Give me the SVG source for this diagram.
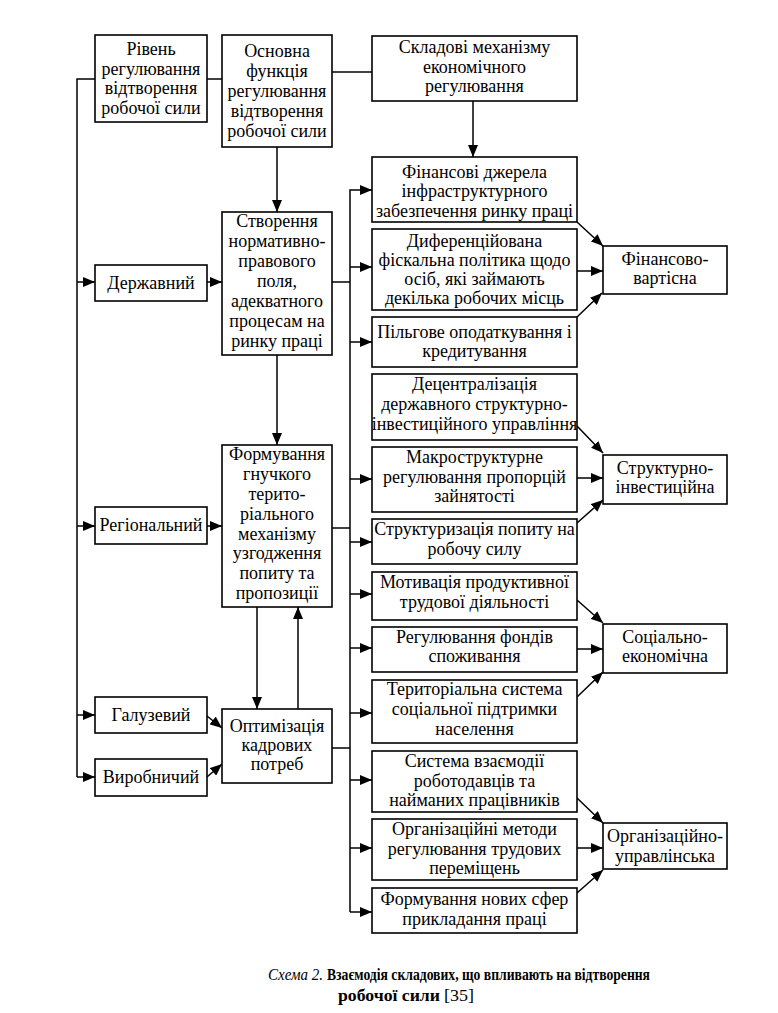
<svg xmlns="http://www.w3.org/2000/svg" width="778" height="1013" viewBox="0 0 778 1013">
<style>
rect.b{fill:#fff;stroke:#000;stroke-width:1.6}
text{font-family:"Liberation Serif","Times New Roman","DejaVu Serif",serif;font-size:18px;fill:#000;text-anchor:middle}
.c line,.c polyline{stroke:#000;stroke-width:1.5;fill:none}
.a{marker-end:url(#ah)}
.cap{font-size:16.5px;text-anchor:start}
</style>
<defs>
<marker id="ah" markerUnits="userSpaceOnUse" markerWidth="12" markerHeight="10" viewBox="0 0 12 10" refX="12" refY="5" orient="auto">
<path d="M0,0 L12,5 L0,10 z" fill="#000"/>
</marker>
</defs>
<rect width="778" height="1013" fill="#fff"/>
<g class="c">
<polyline points="95,79 77,79 77,777"/>
<line class="a" x1="77" y1="282" x2="95" y2="282"/>
<line class="a" x1="77" y1="526" x2="95" y2="526"/>
<line class="a" x1="77" y1="715" x2="95" y2="715"/>
<line class="a" x1="77" y1="777" x2="95" y2="777"/>
<line x1="207" y1="79" x2="222" y2="79"/>
<line x1="332" y1="72" x2="372" y2="72"/>
<line class="a" x1="473" y1="101" x2="473" y2="157"/>
<line class="a" x1="277" y1="147" x2="277" y2="212"/>
<line class="a" x1="207" y1="282" x2="222" y2="282"/>
<line class="a" x1="207" y1="526" x2="222" y2="526"/>
<line class="a" x1="277" y1="355" x2="277" y2="445"/>
<line class="a" x1="257" y1="607" x2="257" y2="709"/>
<line class="a" x1="298" y1="709" x2="298" y2="607"/>
<line class="a" x1="207" y1="716" x2="222" y2="728"/>
<line class="a" x1="207" y1="777" x2="222" y2="764"/>
<polyline class="a" points="350,912 350,190 372,190"/>
<line x1="332" y1="282" x2="350" y2="282"/>
<line x1="332" y1="528" x2="350" y2="528"/>
<line x1="332" y1="748" x2="350" y2="748"/>
<line class="a" x1="350" y1="267" x2="372" y2="267"/>
<line class="a" x1="350" y1="342" x2="372" y2="342"/>
<line class="a" x1="350" y1="479" x2="372" y2="479"/>
<line class="a" x1="350" y1="542" x2="372" y2="542"/>
<line class="a" x1="350" y1="594" x2="372" y2="594"/>
<line class="a" x1="350" y1="648" x2="372" y2="648"/>
<line class="a" x1="350" y1="713" x2="372" y2="713"/>
<line class="a" x1="350" y1="780" x2="372" y2="780"/>
<line class="a" x1="350" y1="848" x2="372" y2="848"/>
<line class="a" x1="350" y1="912" x2="372" y2="912"/>
<line class="a" x1="577" y1="222" x2="603" y2="246"/>
<line class="a" x1="577" y1="271" x2="603" y2="271"/>
<line class="a" x1="577" y1="317" x2="602" y2="293"/>
<line class="a" x1="577" y1="426" x2="603" y2="453"/>
<line class="a" x1="577" y1="478" x2="603" y2="478"/>
<line class="a" x1="577" y1="523" x2="603" y2="500"/>
<line class="a" x1="577" y1="600" x2="603" y2="623"/>
<line class="a" x1="577" y1="649" x2="603" y2="649"/>
<line class="a" x1="577" y1="697" x2="603" y2="672"/>
<line class="a" x1="577" y1="798" x2="603" y2="823"/>
<line class="a" x1="577" y1="848" x2="603" y2="848"/>
<line class="a" x1="577" y1="893" x2="603" y2="870"/>
</g>
<g id="riven"><rect class="b" x="95" y="35" width="112" height="87"/><text x="151" y="55">Рівень</text><text x="151" y="75">регулювання</text><text x="151" y="94">відтворення</text><text x="151" y="114">робочої сили</text></g>
<g id="derzh"><rect class="b" x="95" y="265" width="112" height="36"/><text x="151" y="289">Державний</text></g>
<g id="region"><rect class="b" x="95" y="507" width="112" height="37"/><text x="151" y="531">Регіональний</text></g>
<g id="galuz"><rect class="b" x="95" y="697" width="112" height="36"/><text x="151" y="721">Галузевий</text></g>
<g id="vyrob"><rect class="b" x="95" y="759" width="112" height="37"/><text x="151" y="783">Виробничий</text></g>
<g id="osnovna"><rect class="b" x="222" y="35" width="110" height="112"/><text x="277" y="57">Основна</text><text x="277" y="77">функція</text><text x="277" y="97">регулювання</text><text x="277" y="117">відтворення</text><text x="277" y="137">робочої сили</text></g>
<g id="stvor"><rect class="b" x="222" y="212" width="110" height="143"/><text x="277" y="227">Створення</text><text x="277" y="247">нормативно-</text><text x="277" y="267">правового</text><text x="277" y="287">поля,</text><text x="277" y="307">адекватного</text><text x="277" y="327">процесам на</text><text x="277" y="347">ринку праці</text></g>
<g id="formuv"><rect class="b" x="222" y="445" width="110" height="162"/><text x="277" y="460">Формування</text><text x="277" y="480">гнучкого</text><text x="277" y="500">терито-</text><text x="277" y="520">ріального</text><text x="277" y="540">механізму</text><text x="277" y="559">узгодження</text><text x="277" y="579">попиту та</text><text x="277" y="599">пропозиції</text></g>
<g id="optym"><rect class="b" x="222" y="709" width="110" height="74"/><text x="277" y="732">Оптимізація</text><text x="277" y="751">кадрових</text><text x="277" y="770">потреб</text></g>
<g id="skladovi"><rect class="b" x="372" y="36" width="205" height="65"/><text x="474.5" y="53">Складові механізму</text><text x="474.5" y="73">економічного</text><text x="474.5" y="92">регулювання</text></g>
<g id="finjer"><rect class="b" x="372" y="157" width="205" height="65"/><text x="474.5" y="178">Фінансові джерела</text><text x="474.5" y="197">інфраструктурного</text><text x="474.5" y="217">забезпечення ринку праці</text></g>
<g id="dyfer"><rect class="b" x="372" y="229" width="205" height="81"/><text x="474.5" y="247">Диференційована</text><text x="474.5" y="266">фіскальна політика щодо</text><text x="474.5" y="285">осіб, які займають</text><text x="474.5" y="304">декілька робочих місць</text></g>
<g id="pilg"><rect class="b" x="372" y="317" width="205" height="50"/><text x="474.5" y="338">Пільгове оподаткування і</text><text x="474.5" y="357">кредитування</text></g>
<g id="decentr"><rect class="b" x="372" y="374" width="205" height="66"/><text x="474.5" y="390">Децентралізація</text><text x="474.5" y="410">державного структурно-</text><text x="474.5" y="430">інвестиційного управління</text></g>
<g id="makro"><rect class="b" x="372" y="447" width="205" height="65"/><text x="474.5" y="463">Макроструктурне</text><text x="474.5" y="483">регулювання пропорцій</text><text x="474.5" y="502">зайнятості</text></g>
<g id="struktur"><rect class="b" x="372" y="519" width="205" height="45"/><text x="474.5" y="535">Структуризація попиту на</text><text x="474.5" y="555">робочу силу</text></g>
<g id="motyv"><rect class="b" x="372" y="572" width="205" height="48"/><text x="474.5" y="588">Мотивація продуктивної</text><text x="474.5" y="608">трудової діяльності</text></g>
<g id="fondy"><rect class="b" x="372" y="627" width="205" height="45"/><text x="474.5" y="643">Регулювання фондів</text><text x="474.5" y="662">споживання</text></g>
<g id="terytor"><rect class="b" x="372" y="680" width="205" height="63"/><text x="474.5" y="695">Територіальна система</text><text x="474.5" y="715">соціальної підтримки</text><text x="474.5" y="735">населення</text></g>
<g id="systema"><rect class="b" x="372" y="751" width="205" height="61"/><text x="474.5" y="767">Система взаємодії</text><text x="474.5" y="787">роботодавців та</text><text x="474.5" y="806">найманих працівників</text></g>
<g id="orgmet"><rect class="b" x="372" y="819" width="205" height="61"/><text x="474.5" y="835">Організаційні методи</text><text x="474.5" y="855">регулювання трудових</text><text x="474.5" y="874">переміщень</text></g>
<g id="novsfer"><rect class="b" x="372" y="888" width="205" height="45"/><text x="474.5" y="905">Формування нових сфер</text><text x="474.5" y="925">прикладання праці</text></g>
<g id="finvart"><rect class="b" x="603" y="246" width="124" height="48"/><text x="665" y="265">Фінансово-</text><text x="665" y="284">вартісна</text></g>
<g id="strinv"><rect class="b" x="603" y="455" width="124" height="49"/><text x="665" y="474">Структурно-</text><text x="665" y="493">інвестиційна</text></g>
<g id="socek"><rect class="b" x="603" y="624" width="124" height="49"/><text x="665" y="643">Соціально-</text><text x="665" y="662">економічна</text></g>
<g id="orgupr"><rect class="b" x="603" y="823" width="124" height="46"/><text x="665" y="842">Організаційно-</text><text x="665" y="862">управлінська</text></g>
<g id="caption">
<text class="cap" x="268" y="980" font-style="italic" textLength="55" lengthAdjust="spacingAndGlyphs">Схема 2.</text>
<text class="cap" x="327" y="980" font-weight="bold" textLength="323" lengthAdjust="spacingAndGlyphs">Взаємодія складових, що впливають на відтворення</text>
<text class="cap" x="338" y="1001" font-weight="bold" textLength="102" lengthAdjust="spacingAndGlyphs">робочої сили</text>
<text class="cap" x="444" y="1001" textLength="30" lengthAdjust="spacingAndGlyphs">[35]</text>
</g>
</svg>
